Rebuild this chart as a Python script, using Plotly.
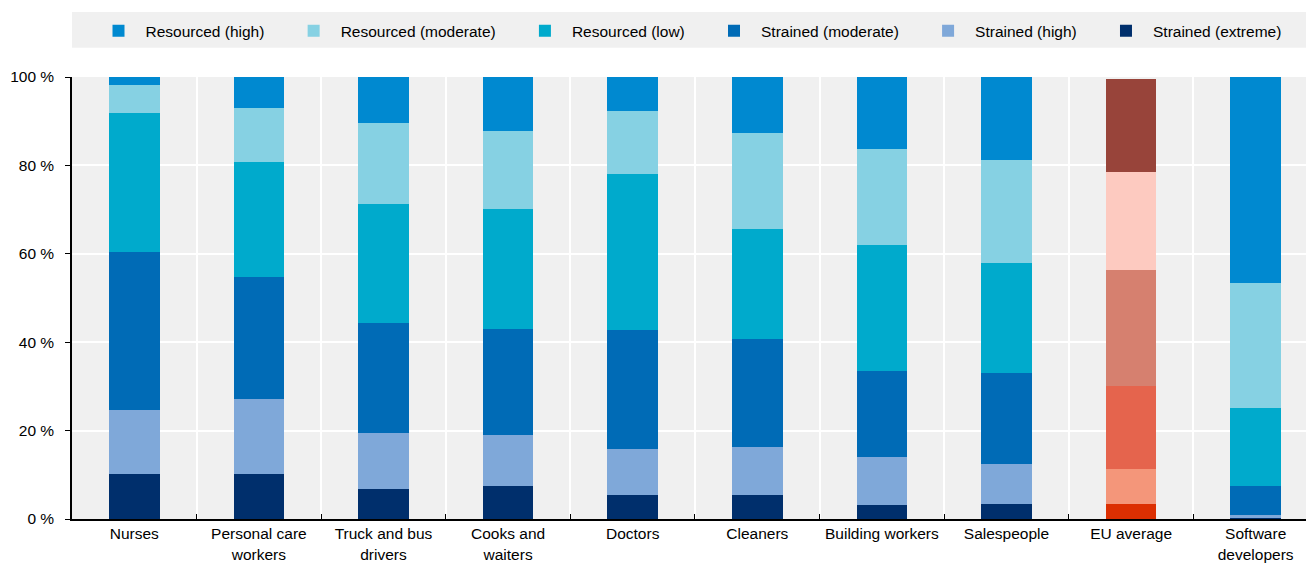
import plotly.graph_objects as go

categories = ["Nurses", "Personal care<br>workers", "Truck and bus<br>drivers", "Cooks and<br>waiters",
              "Doctors", "Cleaners", "Building workers", "Salespeople", "EU average", "Software<br>developers"]

strained_extreme = [10.2, 10.2, 6.8, 7.5, 5.4, 5.4, 3.2, 3.4, 3.4, 0.2]
strained_high = [14.5, 16.9, 12.7, 11.5, 10.4, 10.9, 10.8, 9.0, 7.9, 0.6]
strained_moderate = [35.7, 27.7, 24.8, 24.0, 27.0, 24.4, 19.5, 20.6, 18.9, 6.7]
resourced_low = [31.5, 26.0, 27.0, 27.1, 35.3, 24.9, 28.5, 24.9, 26.2, 17.6]
resourced_moderate = [6.3, 12.2, 18.3, 17.7, 14.2, 21.7, 21.7, 23.3, 22.2, 28.2]
resourced_high = [1.8, 7.0, 10.4, 12.2, 7.7, 12.7, 16.3, 18.8, 21.0, 46.7]

y_tickvals = [0, 20, 40, 60, 80, 100]
y_ticktext = ["0 %", "20 %", "40 %", "60 %", "80 %", "100 %"]

series = [
    ("Strained (extreme)", strained_extreme, "#002F6C", "#DC2F02"),
    ("Strained (high)", strained_high, "#7FA8D9", "#F4967A"),
    ("Strained (moderate)", strained_moderate, "#006BB6", "#E5644D"),
    ("Resourced (low)", resourced_low, "#00AACC", "#D6806F"),
    ("Resourced (moderate)", resourced_moderate, "#86D1E3", "#FDCAC0"),
    ("Resourced (high)", resourced_high, "#0089D0", "#98443A"),
]

PAD = "\u00a0" * 4
FONT = "Liberation Sans, Arial, sans-serif"
fig = go.Figure()
for name, vals, col, eucol in series:
    colors = [eucol if c == "EU average" else col for c in categories]
    label = name if name == "Strained (extreme)" else name + PAD
    fig.add_trace(go.Bar(
        x=categories, y=vals, name=label,
        marker=dict(color=colors, line=dict(width=0)),
        width=0.405,
    ))

fig.update_layout(
    barmode="stack",
    width=1306, height=564,
    margin=dict(l=72, r=0, t=77, b=45),
    paper_bgcolor="white",
    plot_bgcolor="#F0F0F0",
    font=dict(family=FONT, size=15.5, color="#000000"),
    showlegend=True,
    legend=dict(orientation="h", traceorder="reversed", x=0.5, xanchor="center",
                y=1.065, yanchor="bottom", bgcolor="rgba(0,0,0,0)",
                font=dict(size=15.5), itemwidth=44, tracegroupgap=0),
    shapes=[dict(type="rect", xref="paper", yref="paper", x0=0.0, x1=1.0,
                 y0=1.066, y1=1.147, fillcolor="#F0F0F0", line=dict(width=0), layer="below")],
    xaxis=dict(type="category", tickson="boundaries", range=[-0.5, 9.404], showgrid=True,
               gridcolor="white", gridwidth=2,
               ticks="inside", ticklen=5, tickcolor="black", showline=True, linecolor="black",
               linewidth=1.5, tickfont=dict(size=15.5), zeroline=False),
    yaxis=dict(range=[0, 100], tickvals=y_tickvals, ticktext=y_ticktext, showgrid=True,
               gridcolor="white", gridwidth=2, ticks="outside", ticklen=5, tickcolor="black",
               ticklabelstandoff=8,
               showline=True, linecolor="black", linewidth=1.5, tickfont=dict(size=15.5), zeroline=False),
)

fig.write_html("out.html")
